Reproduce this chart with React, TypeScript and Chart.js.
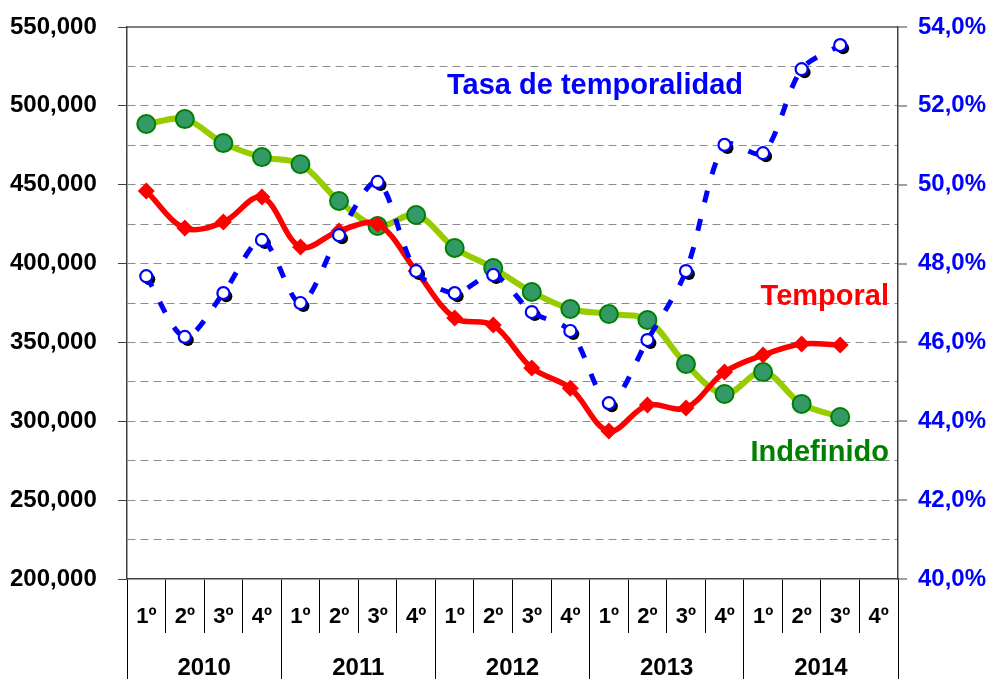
import React, { useEffect, useRef } from "react";
import { Chart, registerables } from "chart.js";

Chart.register(...registerables);

const FONT = '"Liberation Sans", Arial, sans-serif';

const quarterLabels = [
  "1º", "2º", "3º", "4º",
  "1º", "2º", "3º", "4º",
  "1º", "2º", "3º", "4º",
  "1º", "2º", "3º", "4º",
  "1º", "2º", "3º", "4º",
];
const years = ["2010", "2011", "2012", "2013", "2014"];

const indefinido = [
  488500, 491600, 476400, 467500, 463000, 439700, 423800, 430800, 409900, 397200,
  382000, 371200, 368000, 364200, 336300, 317300, 331200, 311000, 302700, null,
];
const temporal = [
  446000, 422500, 426300, 442200, 410500, 420600, 425000, 395300, 365500, 361000,
  333800, 321000, 293800, 310300, 308400, 331200, 342000, 349000, 348400, null,
];
const tasa = [
  47.68, 46.14, 47.25, 48.6, 47.0, 48.72, 50.07, 47.81, 47.25, 47.71,
  46.77, 46.29, 44.46, 46.06, 47.81, 51.01, 50.8, 52.93, 53.54, null,
];

const leftMin = 200000;
const leftMax = 550000;
const leftStep = 25000;
const rightMin = 40;
const rightMax = 54;
const rightStep = 2;

const shadowPlugin = {
  id: "markerShadow",
  beforeDatasetDraw(chart: any, args: any) {
    if (chart.data.datasets[args.index].isShadow) {
      chart.ctx.save();
      chart.ctx.translate(3, 3);
    }
  },
  afterDatasetDraw(chart: any, args: any) {
    if (chart.data.datasets[args.index].isShadow) {
      chart.ctx.restore();
    }
  },
};

const textPlugin = {
  id: "seriesText",
  afterDatasetsDraw(chart: any) {
    const { ctx, chartArea } = chart;
    ctx.save();
    ctx.font = `bold 29px ${FONT}`;
    ctx.textBaseline = "middle";
    ctx.textAlign = "center";
    ctx.fillStyle = "#0000FF";
    ctx.fillText("Tasa de temporalidad", chartArea.left + 468, chartArea.top + 59);
    ctx.textAlign = "right";
    ctx.fillStyle = "#FF0000";
    ctx.fillText("Temporal", chartArea.right - 9, chartArea.top + 270);
    ctx.fillStyle = "#008000";
    ctx.fillText("Indefinido", chartArea.right - 9, chartArea.top + 426);
    ctx.restore();
  },
};

export default function App() {
  const ref = useRef<HTMLCanvasElement | null>(null);

  useEffect(() => {
    if (!ref.current) return;
    Chart.defaults.font.family = FONT;
    const chart = new Chart(ref.current, {
      type: "line",
      data: {
        labels: quarterLabels,
        datasets: [
          {
            label: "Tasa de temporalidad",
            data: tasa,
            yAxisID: "y1",
            xAxisID: "x",
            borderColor: "#0000FF",
            borderWidth: 5,
            borderDash: [12, 17],
            tension: 0.3,
            pointRadius: 6,
            pointBorderWidth: 2.2,
            pointBackgroundColor: "#FFFFFF",
            pointBorderColor: "#0000FF",
            order: 0,
          },
          {
            label: "sombra",
            data: tasa,
            yAxisID: "y1",
            xAxisID: "x",
            isShadow: true,
            showLine: false,
            pointRadius: 6,
            pointBorderWidth: 0,
            pointBackgroundColor: "#000000",
            pointBorderColor: "#000000",
            order: 1,
          } as any,
          {
            label: "Temporal",
            data: temporal,
            yAxisID: "y",
            xAxisID: "x",
            borderColor: "#FF0000",
            borderWidth: 5.5,
            tension: 0.35,
            pointStyle: "rectRot",
            pointRadius: 8.5,
            pointBorderWidth: 0,
            pointBackgroundColor: "#FF0000",
            pointBorderColor: "#FF0000",
            order: 2,
          },
          {
            label: "Indefinido",
            data: indefinido,
            yAxisID: "y",
            xAxisID: "x",
            borderColor: "#99CC00",
            borderWidth: 6,
            tension: 0.35,
            pointRadius: 9,
            pointBorderWidth: 2,
            pointBackgroundColor: "#339966",
            pointBorderColor: "#008000",
            order: 3,
          },
        ],
      },
      options: {
        animation: false,
        responsive: false,
        layout: { padding: { top: 27, left: 10, right: 0, bottom: 0 } },
        plugins: {
          legend: { display: false },
          tooltip: { enabled: false },
        },
        scales: {
          x: {
            type: "category",
            position: "bottom",
            offset: true,
            weight: 0,
            grid: {
              offset: true,
              drawOnChartArea: false,
              drawTicks: true,
              tickLength: 54,
              color: "#000000",
              lineWidth: 1,
            },
            border: { display: true, color: "#404040", width: 1.5 },
            ticks: {
              color: "#000000",
              font: { size: 22, weight: "bold" },
              padding: -29,
              maxRotation: 0,
              autoSkip: false,
            },
            afterFit: (s: any) => {
              s.height = 54;
            },
          },
          x2: {
            type: "category",
            labels: years,
            position: "bottom",
            offset: true,
            weight: 1,
            grid: {
              offset: true,
              drawOnChartArea: false,
              drawTicks: true,
              tickLength: 46,
              color: "#000000",
              lineWidth: 1,
            },
            border: { display: false },
            ticks: {
              color: "#000000",
              font: { size: 24, weight: "bold" },
              padding: -25,
              maxRotation: 0,
              autoSkip: false,
            },
            afterFit: (s: any) => {
              s.height = 46;
            },
          },
          y: {
            type: "linear",
            position: "left",
            min: leftMin,
            max: leftMax,
            ticks: {
              stepSize: leftStep,
              autoSkip: false,
              color: "#000000",
              font: { size: 24, weight: "bold" },
              padding: 4,
              crossAlign: "far",
              callback: (v: any) =>
                Number(v) % 50000 === 0 ? Number(v).toLocaleString("en-US") : "",
            },
            grid: {
              color: (c: any) =>
                c.tick && (c.tick.value === leftMax || c.tick.value === leftMin)
                  ? "rgba(0,0,0,0)"
                  : "#8C8C8C",
              lineWidth: 1,
              tickLength: 9,
              tickWidth: 1,
              tickColor: (c: any) =>
                c.tick && c.tick.value % 50000 === 0 ? "#404040" : "rgba(0,0,0,0)",
            },
            border: { display: true, color: "#404040", width: 1.5, dash: [8, 5] },
            afterFit: (s: any) => {
              s.width = 117;
            },
          },
          y1: {
            type: "linear",
            position: "right",
            min: rightMin,
            max: rightMax,
            ticks: {
              stepSize: rightStep,
              color: "#0000FF",
              font: { size: 24, weight: "bold" },
              padding: 11,
              callback: (v: any) => Number(v).toFixed(1).replace(".", ",") + "%",
            },
            grid: {
              drawOnChartArea: true,
              color: (c: any) =>
                c.tick && c.tick.value === rightMax ? "#808080" : "rgba(0,0,0,0)",
              lineWidth: 2,
              tickLength: 9,
              tickWidth: 1,
              tickColor: "#404040",
            },
            border: { display: true, color: "#404040", width: 1.5 },
            afterFit: (s: any) => {
              s.width = 95;
            },
          },
        },
      } as any,
      plugins: [shadowPlugin, textPlugin],
    });
    return () => chart.destroy();
  }, []);

  return (
    <div style={{ position: "fixed", left: 0, top: 0, width: 993, height: 679, background: "#fff" }}>
      <canvas ref={ref} width={993} height={679} style={{ display: "block" }} />
    </div>
  );
}
